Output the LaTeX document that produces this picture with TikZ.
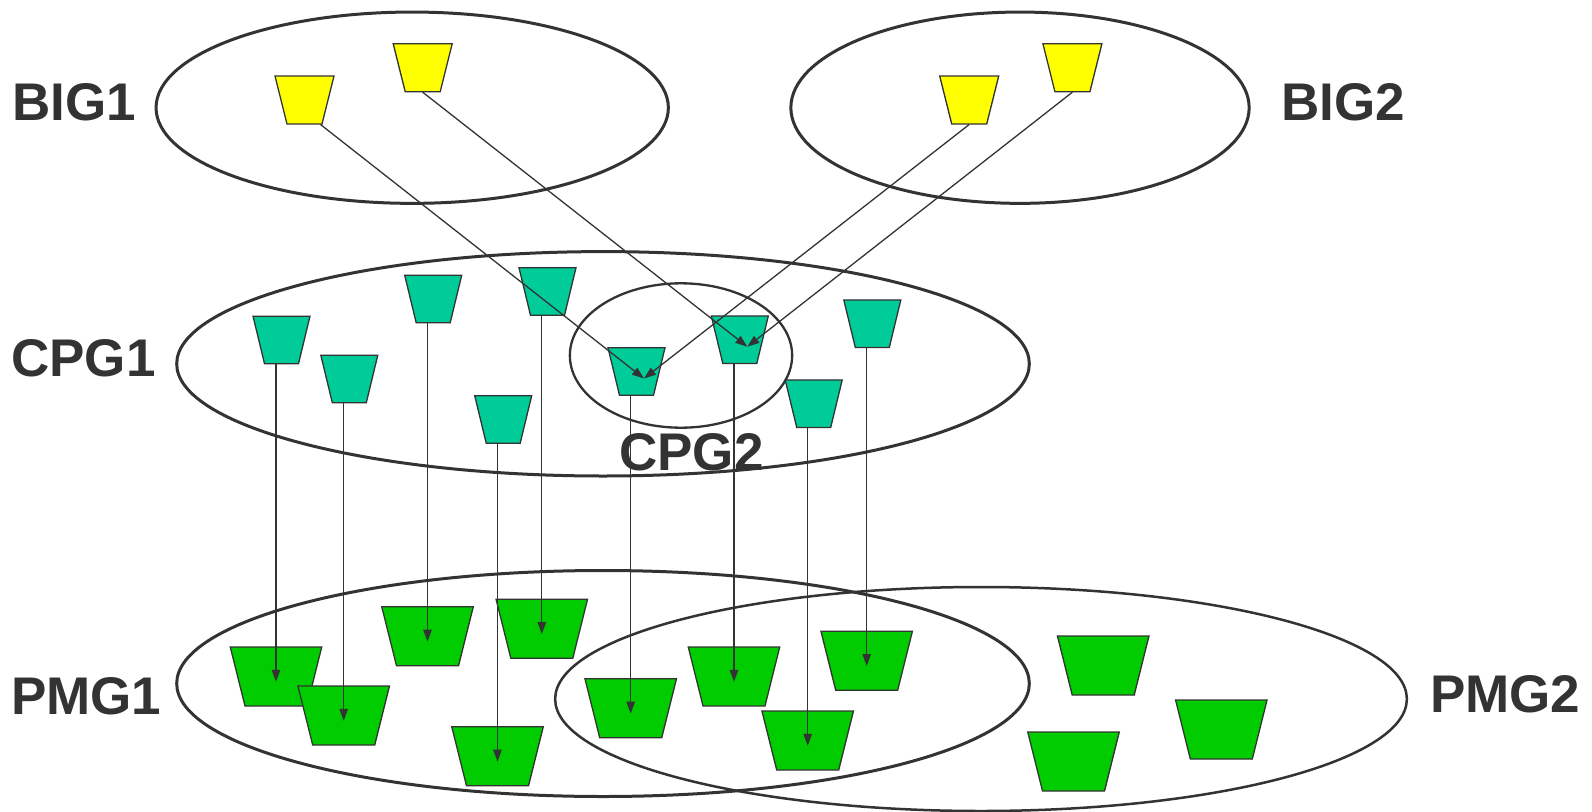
\documentclass[tikz,border=0pt]{standalone}
\usepackage{fontspec}
\setmainfont{Liberation Sans}
\usepackage{tikz}
\usetikzlibrary{arrows.meta, shapes.geometric}
\definecolor{ink}{HTML}{333333}
\definecolor{bigyellow}{HTML}{FFFF00}
\definecolor{cpgteal}{HTML}{00CC99}
\definecolor{pmggreen}{HTML}{00CC00}

\begin{document}
\begin{tikzpicture}[x=1pt, y=-1pt,
    grp/.style={draw=ink, line width=3pt, ellipse, inner sep=0pt},
    port/.style={draw=ink, line width=1.3pt, line join=miter},
    link/.style={draw=ink, line width=1.3pt, -{Triangle[length=12pt, width=8.5pt]}},
    lbl/.style={text=ink, font=\fontsize{53}{60}\selectfont\bfseries,
      inner sep=0pt, anchor=base west}]
  \useasboundingbox (0,0) rectangle (1592,811);

  \node[grp, minimum width=512.3pt, minimum height=191.3pt] (big1) at (412.2,107.7) {};
  \node[grp, minimum width=458.3pt, minimum height=191.3pt] (big2) at (1020,107.7) {};
  \node[grp, minimum width=852.6pt, minimum height=224.4pt] (cpg1) at (603,363.8) {};
  \node[grp, line width=2.3pt, minimum width=222.3pt, minimum height=144.4pt] (cpg2) at (681,355.5) {};
  \node[grp, minimum width=852.6pt, minimum height=226pt] (pmg1) at (603,683.5) {};
  \node[grp, line width=2.5pt, minimum width=851.7pt, minimum height=224pt] (pmg2) at (981,699) {};

  \foreach \n/\x/\y in {y1/304.5/100, y2/422.7/67.7, y3/969.2/100, y4/1072.4/67.7} {
    \coordinate (\n) at (\x,\y);
    \filldraw[port, fill=bigyellow] ([shift={(-29.5,-24)}]\n) -- ([shift={(29.5,-24)}]\n)
      -- ([shift={(17.5,24)}]\n) -- ([shift={(-17.5,24)}]\n) -- cycle;
  }
  \foreach \n/\x/\y in {t1/281.5/339.9, t2/349.3/378.9, t3/433.2/299, t4/503.2/419.4,
      t5/547.5/291.5, t6/636.5/371.5, t7/739.8/339.7, t8/813.7/403.7, t9/872.3/323.7} {
    \coordinate (\n) at (\x,\y);
    \filldraw[port, fill=cpgteal] ([shift={(-28.5,-23.75)}]\n) -- ([shift={(28.5,-23.75)}]\n)
      -- ([shift={(17,23.75)}]\n) -- ([shift={(-17,23.75)}]\n) -- cycle;
  }
  \foreach \n/\x/\y in {p1/276/676.5, p2/343.7/715.5, p3/427.5/636.3, p4/541.8/628.7,
      p5/497.5/756.3, p6/630.7/708.3, p7/734/676.5, p8/866.7/660.7, p9/807.7/740.5,
      p10/1103.2/665.5, p11/1221.3/729.5, p12/1073.5/761.5} {
    \coordinate (\n) at (\x,\y);
    \filldraw[port, fill=pmggreen] ([shift={(-45.75,-29.5)}]\n) -- ([shift={(45.75,-29.5)}]\n)
      -- ([shift={(31,29.5)}]\n) -- ([shift={(-31,29.5)}]\n) -- cycle;
  }

  \draw[link] ([shift={(16,24.5)}]y1) -- ([shift={(7.5,7)}]t6);
  \foreach \a/\b in {y3/t6, y2/t7, y4/t7}
    \draw[link] ([shift={(0,24.5)}]\a) -- ([shift={(7.5,7)}]\b);
  \foreach \a/\b in {t1/p1, t2/p2, t3/p3, t5/p4, t4/p5, t6/p6, t7/p7, t9/p8, t8/p9}
    \draw[link] ([yshift=-23.7pt]\a -| \b) -- ([shift={(0,5.3)}]\b);

  \node[lbl] (lbig1) at (12.5,120) {BIG1};
  \node[lbl] (lbig2) at (1281,120) {BIG2};
  \node[lbl] (lcpg1) at (11,376) {CPG1};
  \node[lbl] (lcpg2) at (619,470.7) {CPG2};
  \node[lbl] (lpmg1) at (11,714) {PMG1};
  \node[lbl] (lpmg2) at (1430,712) {PMG2};
\end{tikzpicture}
\end{document}
